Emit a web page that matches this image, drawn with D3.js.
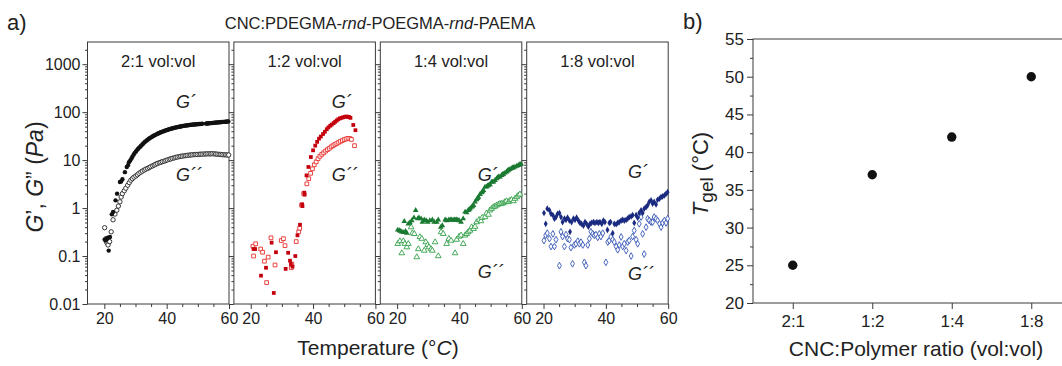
<!DOCTYPE html>
<html>
<head>
<meta charset="utf-8">
<script src="https://cdn.jsdelivr.net/npm/d3@7"></script>
<style>
  body { margin: 0; background: #fff; }
  svg { display: block; font-family: "Liberation Sans", Arial, sans-serif; }
</style>
</head>
<body>
<svg id="chart" width="1062" height="366"></svg>
<script>
"use strict";

// ---------- data ----------
const panelTitles = ["2:1 vol:vol", "1:2 vol:vol", "1:4 vol:vol", "1:8 vol:vol"];
const tempTicksMajor = [20, 40, 60];
const tempTicksMinor = [25, 30, 35, 45, 50, 55];
const modulusTicks = [0.01, 0.1, 1, 10, 100, 1000];

// 2:1 vol:vol  [T (°C), modulus (Pa)]
const gp21 = [[20.1,0.22],[20.4,0.21],[20.8,0.23],[21.1,0.24],[21.4,0.13],[21.8,0.25],[22.4,0.74],[22.8,0.83],[23.6,1.45],[24.1,2.0],[25.0,3.5],[25.4,3.6],[25.8,4.0],[26.6,5.6],[27.2,7.2],[27.6,7.8],[27.9,9.0],[28.3,9.8],[28.7,10.8],[29.0,11.8],[29.4,13],[29.7,14],[30.1,15],[30.4,16],[30.8,17],[31.1,18],[31.5,19],[31.8,20],[32.2,21.2],[32.5,22.3],[32.9,23.5],[33.2,24.6],[33.6,25.7],[33.9,26.7],[34.3,27.8],[34.6,28.8],[35.0,29.8],[35.3,30.8],[35.7,31.8],[36.0,32.7],[36.4,33.6],[36.7,34.5],[37.1,35.4],[37.4,36.3],[37.8,37.2],[38.1,38.0],[38.5,38.9],[38.8,39.7],[39.2,40.5],[39.5,41.3],[39.9,42.0],[40.2,42.8],[40.6,43.5],[40.9,44.2],[41.3,44.9],[41.6,45.6],[42.0,46.2],[42.3,46.9],[42.7,47.5],[43.0,48.1],[43.4,48.7],[43.7,49.3],[44.1,49.8],[44.4,50.3],[44.8,50.8],[45.1,51.3],[45.5,51.8],[45.8,52.2],[46.2,52.6],[46.5,53.0],[46.9,53.4],[47.2,53.8],[47.6,54.1],[47.9,54.5],[48.3,54.8],[48.6,55.1],[49.0,55.4],[49.3,55.7],[49.7,56.0],[50.0,56.2],[50.4,56.5],[50.7,56.7],[51.1,57.0],[51.4,57.2],[52.6,57.8],[52.9,58.0],[53.2,58.3],[53.5,58.6],[53.9,58.9],[54.2,59.2],[54.6,59.5],[54.9,59.8],[55.3,60.1],[55.6,60.4],[56.0,60.7],[56.3,61.0],[56.7,61.3],[57.0,61.6],[57.4,61.9],[57.7,62.2],[58.1,62.5],[58.4,62.8],[58.8,63.1],[59.1,63.4],[59.5,63.7],[59.8,64.0]];
const gpp21 = [[20.1,0.39],[20.5,0.23],[20.8,0.19],[21.2,0.17],[21.7,0.2],[22.2,0.32],[22.8,0.57],[23.4,0.75],[24.0,0.9],[24.5,1.1],[25.0,1.35],[25.4,1.7],[25.8,2.0],[26.4,2.3],[26.9,2.6],[27.5,3.0],[28.0,3.4],[28.5,3.8],[29.0,4.1],[29.5,4.4],[30.1,4.65],[30.6,4.95],[31.1,5.3],[31.7,5.6],[32.2,5.9],[32.8,6.2],[33.3,6.5],[33.9,6.7],[34.4,7.0],[34.9,7.3],[35.5,7.6],[36.0,7.9],[36.5,8.2],[37.0,8.5],[37.6,8.8],[38.1,9.0],[38.6,9.3],[39.2,9.5],[39.7,9.8],[40.2,10.1],[40.8,10.4],[41.3,10.6],[41.8,10.9],[42.4,11.1],[42.9,11.4],[43.4,11.6],[44.0,11.8],[44.5,12.0],[45.0,12.1],[45.6,12.3],[46.1,12.4],[46.6,12.6],[47.2,12.7],[47.7,12.8],[48.2,12.9],[48.8,13.0],[49.3,13.1],[49.8,13.1],[50.4,13.2],[50.9,13.3],[51.4,13.3],[52.0,13.4],[52.5,13.4],[53.0,13.5],[53.6,13.5],[54.1,13.5],[54.6,13.6],[55.2,13.5],[55.7,13.4],[56.2,13.3],[56.8,13.2],[57.3,13.1],[57.8,13.0],[58.4,12.9],[58.9,12.9],[59.4,12.8],[59.9,12.8]];

// 1:2 vol:vol
const gp12 = [[20.9,0.14],[21.4,0.14],[23.3,0.039],[24.9,0.057],[26.7,0.19],[27.4,0.017],[28.1,0.12],[31.2,0.054],[32.0,0.117],[32.6,0.08],[32.9,0.068],[33.4,0.06],[34.3,0.1],[35.0,0.27],[35.8,0.45],[36.5,1.2],[36.6,1.1],[37.2,2.1],[37.3,1.9],[37.9,4.8],[38.5,7.2],[39.3,11.6],[40.0,16],[40.7,20],[41.3,24],[41.9,28],[42.5,31],[43.2,35],[43.8,39],[44.4,44],[44.9,48],[45.5,52],[46.0,55],[46.6,59],[47.1,63],[47.6,67],[48.1,71],[48.6,74],[49.1,76],[49.6,78],[50.2,80],[50.7,81],[51.2,80],[51.6,79],[52.0,76],[52.9,54],[53.6,42]];
const gpp12 = [[20.7,0.16],[20.9,0.10],[21.6,0.18],[23.2,0.14],[23.8,0.12],[24.4,0.078],[25.1,0.028],[25.6,0.095],[26.5,0.24],[27.8,0.065],[29.8,0.21],[30.5,0.23],[31.0,0.165],[33.0,0.057],[33.2,0.068],[34.6,0.2],[35.4,0.32],[35.7,0.38],[36.3,1.15],[37.0,2.0],[38.0,3.2],[38.6,4.1],[39.2,5.3],[39.8,6.6],[40.4,8.0],[41.0,9.2],[41.6,10.7],[42.2,12],[42.8,13.2],[43.4,14.2],[44.0,15.4],[44.6,16.5],[45.2,17.6],[45.8,18.9],[46.4,20],[47.0,21.2],[47.6,22.2],[48.2,23.4],[48.8,24.6],[49.4,25.6],[50.0,26.8],[50.6,27.6],[51.2,28.4],[51.8,28.2],[52.3,27],[53.3,20]];

// 1:4 vol:vol
const gp14 = [[20.2,0.35],[20.7,0.34],[21.1,0.33],[21.5,0.32],[22.0,0.31],[22.3,0.53],[22.7,0.33],[23.1,0.30],[23.6,0.47],[24.1,0.5],[24.7,0.55],[25.4,0.63],[25.95,0.90],[26.6,0.6],[27.0,0.63],[27.7,0.6],[28.1,0.51],[28.7,0.57],[29.3,0.55],[29.8,0.51],[30.5,0.55],[31.3,0.57],[31.9,0.51],[32.7,0.51],[33.2,0.57],[34.0,0.40],[34.5,0.43],[35.4,0.57],[35.9,0.55],[36.6,0.57],[37.1,0.57],[37.5,0.57],[38.0,0.56],[38.4,0.57],[38.8,0.56],[39.1,0.57],[39.5,0.56],[39.9,0.55],[40.5,0.51],[41.2,0.6],[41.8,0.83],[42.3,0.8],[42.8,0.9],[43.1,0.93],[43.4,0.97],[43.9,1.05],[44.2,1.1],[44.5,1.14],[45.0,1.34],[45.5,1.5],[45.8,1.6],[46.1,1.7],[46.6,1.94],[47.1,2.1],[47.4,2.2],[47.7,2.35],[48.2,2.76],[48.7,2.76],[49.0,2.9],[49.3,2.99],[49.8,3.1],[50.3,3.5],[50.6,3.5],[50.9,3.5],[51.4,3.8],[51.9,4.1],[52.2,4.3],[52.5,4.5],[53.0,4.5],[53.5,4.8],[53.8,5.0],[54.1,5.1],[54.6,5.4],[55.1,5.7],[55.4,6.0],[55.7,6.2],[56.2,6.4],[56.7,6.7],[57.0,6.9],[57.3,7.0],[57.8,7.2],[58.4,7.5],[58.9,7.8],[59.4,8.2],[59.8,8.3]];
const gpp14 = [[20.2,0.18],[20.9,0.205],[21.5,0.115],[22.0,0.205],[22.5,0.18],[23.1,0.153],[23.6,0.18],[24.5,0.40],[24.9,0.30],[25.5,0.29],[26.3,0.095],[26.8,0.14],[27.3,0.25],[27.9,0.23],[28.7,0.13],[29.2,0.195],[29.8,0.17],[30.2,0.153],[30.9,0.14],[31.3,0.13],[32.2,0.195],[33.2,0.1],[34.1,0.316],[34.8,0.29],[35.9,0.18],[36.6,0.23],[37.3,0.21],[38.6,0.115],[39.1,0.22],[39.9,0.255],[40.5,0.27],[41.2,0.18],[41.8,0.27],[42.3,0.29],[42.8,0.316],[43.4,0.34],[43.9,0.40],[44.5,0.37],[45.0,0.41],[45.5,0.51],[46.3,0.57],[46.9,0.535],[47.3,0.63],[48.2,0.65],[48.7,0.78],[49.3,0.73],[49.8,0.90],[50.3,0.97],[50.9,1.05],[51.4,1.08],[51.9,1.14],[52.5,1.19],[53.0,1.23],[53.5,1.23],[54.1,1.27],[54.6,1.34],[55.1,1.40],[55.7,1.34],[56.2,1.44],[56.7,1.49],[57.3,1.40],[57.8,1.57],[58.4,1.70],[58.9,1.84],[59.4,1.94]];

// 1:8 vol:vol
const gp18 = [[20.15,0.79],[20.7,0.47],[21.2,0.97],[21.9,0.90],[22.4,0.76],[23.0,0.71],[23.5,0.60],[24.0,0.65],[24.5,0.76],[25.1,0.79],[25.6,0.65],[26.1,0.51],[26.7,0.60],[27.2,0.57],[27.7,0.63],[28.3,0.55],[28.5,0.32],[29.0,0.51],[29.6,0.60],[30.1,0.57],[30.6,0.63],[31.2,0.55],[31.7,0.49],[32.2,0.47],[32.8,0.43],[33.3,0.51],[33.8,0.47],[34.4,0.41],[34.9,0.47],[35.4,0.49],[36.0,0.51],[36.5,0.49],[37.1,0.51],[37.6,0.49],[38.1,0.51],[38.7,0.47],[39.2,0.55],[39.7,0.51],[40.5,0.35],[41.1,0.49],[41.5,0.51],[42.2,0.30],[42.7,0.47],[43.3,0.46],[43.8,0.49],[44.3,0.51],[44.9,0.55],[45.4,0.57],[45.9,0.55],[46.5,0.57],[47.0,0.60],[47.5,0.65],[48.1,0.67],[48.6,0.71],[49.1,0.49],[49.7,0.71],[50.2,0.63],[50.7,0.79],[51.3,0.90],[51.8,0.79],[52.3,0.97],[52.9,1.05],[53.4,1.14],[53.9,1.34],[54.5,1.44],[55.0,1.23],[55.5,1.34],[56.1,1.19],[56.6,1.49],[57.2,1.57],[57.7,1.70],[58.2,1.75],[58.8,1.84],[59.3,1.98],[59.8,2.15]];
const gpp18 = [[20.15,0.21],[20.7,0.27],[21.2,0.30],[21.9,0.23],[22.4,0.158],[23.0,0.29],[23.5,0.158],[24.0,0.22],[25.1,0.063],[25.6,0.32],[26.1,0.255],[26.7,0.158],[27.2,0.28],[27.7,0.23],[28.3,0.22],[28.8,0.15],[29.3,0.069],[29.9,0.17],[30.4,0.18],[31.0,0.205],[31.5,0.18],[32.0,0.195],[32.6,0.17],[33.1,0.074],[33.6,0.063],[34.2,0.17],[34.7,0.23],[35.2,0.32],[35.8,0.29],[36.3,0.27],[36.8,0.28],[37.4,0.245],[37.9,0.29],[38.4,0.255],[39.0,0.30],[40.0,0.074],[40.6,0.195],[41.1,0.21],[41.6,0.25],[42.2,0.22],[42.7,0.195],[43.3,0.158],[43.8,0.135],[44.3,0.17],[44.9,0.25],[45.4,0.158],[45.9,0.18],[46.5,0.13],[47.0,0.195],[47.5,0.21],[48.1,0.1],[48.6,0.255],[49.1,0.34],[49.7,0.22],[50.2,0.18],[50.7,0.47],[51.3,0.65],[51.8,0.29],[52.3,0.11],[52.9,0.40],[53.4,0.60],[53.9,0.55],[54.5,0.51],[55.0,0.51],[55.5,0.65],[56.1,0.60],[56.6,0.55],[57.2,0.47],[57.7,0.40],[58.2,0.49],[58.8,0.55],[59.3,0.49],[59.8,0.60]];

// where the G´ / G´´ annotations sit: [T, G´ label value, G´´ label value]
const labelAnchors = [[43.0, 122, 3.6], [46.0, 122, 3.6], [45.9, 3.7, 0.035], [47.1, 4.25, 0.032]];

// panel b
const ratios = ["2:1", "1:2", "1:4", "1:8"];
const tgel = [25, 37, 42, 50];
const tgelTicks = [20, 25, 30, 35, 40, 45, 50, 55];
const tgelMinorTicks = [22.5, 27.5, 32.5, 37.5, 42.5, 47.5, 52.5];

// ---------- styling ----------
const panels = [
    { gp: gp21, gpp: gpp21, symbol: d3.symbolCircle, size: 15, fill: "#111", open: "#222" },
    { gp: gp12, gpp: gpp12, symbol: d3.symbolSquare, size: 14, fill: "#c4000c", open: "#e8312e" },
    { gp: gp14, gpp: gpp14, symbol: d3.symbolTriangle, size: 14, fill: "#1b7a31", open: "#33a049" },
    { gp: gp18, gpp: gpp18, symbol: d3.symbolDiamond, size: 13, fill: "#1a2a80", open: "#3456b6" },
];

const svg = d3.select("#chart");
const axisColor = "#3a3a3a";
const textColor = "#222";

// ---------- panel a ----------
const A = { left: 87.5, step: 146.4, width: 141.5, top: 42, bottom: 304 };
const yA = d3.scaleLog().domain([0.01, 2900]).range([A.bottom, A.top]);

const logMinor = [];
for (let e = -2; e <= 3; e++) {
    for (let m = 2; m <= 9; m++) {
        const v = m * Math.pow(10, e);
        if (v < 2900) logMinor.push(v);
    }
}

function styleAxis(g) {
    g.select(".domain").remove();
    g.selectAll("line").attr("stroke", axisColor).attr("stroke-width", 1);
    g.selectAll("text").attr("fill", textColor).attr("font-family", "Liberation Sans, Arial, sans-serif");
}

panels.forEach((p, i) => {
    const x0 = A.left + i * A.step;
    const x = d3.scaleLinear().domain([14.6, 60]).range([x0, x0 + A.width]);
    const g = svg.append("g").attr("class", "subplot");

    // axes
    g.append("g").attr("transform", `translate(0,${A.bottom})`)
        .call(d3.axisBottom(x).tickValues(tempTicksMajor).tickSize(5).tickPadding(4).tickFormat(d3.format("d")))
        .call(styleAxis)
        .selectAll("text").attr("font-size", 16);
    g.append("g").attr("transform", `translate(0,${A.bottom})`)
        .call(d3.axisBottom(x).tickValues(tempTicksMinor).tickSize(3).tickFormat(""))
        .call(styleAxis);
    g.append("g").attr("transform", `translate(${x0},0)`)
        .call(d3.axisLeft(yA).tickValues(modulusTicks).tickSize(5).tickPadding(2)
            .tickFormat(i === 0 ? d => String(d) : ""))
        .call(styleAxis)
        .selectAll("text").attr("font-size", 16);
    g.append("g").attr("transform", `translate(${x0},0)`)
        .call(d3.axisLeft(yA).tickValues(logMinor).tickSize(2.5).tickFormat(""))
        .call(styleAxis);

    g.append("rect")
        .attr("x", x0).attr("y", A.top)
        .attr("width", A.width).attr("height", A.bottom - A.top)
        .attr("fill", "none").attr("stroke", axisColor).attr("stroke-width", 1);

    // markers
    const sym = d3.symbol().type(p.symbol).size(p.size);
    g.append("g").selectAll("path")
        .data(p.gpp).join("path")
        .attr("transform", d => `translate(${x(d[0])},${yA(d[1])})`)
        .attr("d", sym)
        .attr("fill", "#fff").attr("stroke", p.open).attr("stroke-width", 0.9);
    g.append("g").selectAll("path")
        .data(p.gp).join("path")
        .attr("transform", d => `translate(${x(d[0])},${yA(d[1])})`)
        .attr("d", sym)
        .attr("fill", p.fill);

    // labels
    g.append("text")
        .attr("x", (x0 + x0 + A.width) / 2).attr("y", 66.5)
        .attr("text-anchor", "middle").attr("font-size", 16.5).attr("fill", textColor)
        .text(panelTitles[i]);
    const [lt, lv1, lv2] = labelAnchors[i];
    g.append("text").attr("x", x(lt)).attr("y", yA(lv1))
        .attr("font-size", 18).attr("font-style", "italic").attr("fill", textColor)
        .text("G\u00B4");
    g.append("text").attr("x", x(lt)).attr("y", yA(lv2))
        .attr("font-size", 18).attr("font-style", "italic").attr("fill", textColor)
        .text("G\u00B4\u00B4");
});

// panel a titles
const title = svg.append("text").attr("x", 380).attr("y", 28.5)
    .attr("text-anchor", "middle").attr("font-size", 16.5).attr("fill", textColor);
title.append("tspan").text("CNC:PDEGMA-");
title.append("tspan").attr("font-style", "italic").text("rnd");
title.append("tspan").text("-POEGMA-");
title.append("tspan").attr("font-style", "italic").text("rnd");
title.append("tspan").text("-PAEMA");

svg.append("text").attr("x", 7).attr("y", 30).attr("font-size", 22).attr("fill", textColor).text("a)");

const yTitleA = svg.append("text")
    .attr("transform", "translate(43,177) rotate(-90)")
    .attr("text-anchor", "middle").attr("font-size", 23).attr("fill", textColor);
yTitleA.append("tspan").attr("font-style", "italic").text("G");
yTitleA.append("tspan").text("\u2019, ");
yTitleA.append("tspan").attr("font-style", "italic").text("G");
yTitleA.append("tspan").text("\u201D (");
yTitleA.append("tspan").attr("font-style", "italic").text("Pa");
yTitleA.append("tspan").text(")");

const xTitleA = svg.append("text").attr("x", 378).attr("y", 355)
    .attr("text-anchor", "middle").attr("font-size", 21).attr("fill", textColor);
xTitleA.append("tspan").text("Temperature (\u00B0");
xTitleA.append("tspan").attr("font-style", "italic").text("C");
xTitleA.append("tspan").text(")");

// ---------- panel b ----------
const B = { left: 753, right: 1071, top: 39, bottom: 303 };
const xB = d3.scaleLinear().domain([-0.5, ratios.length - 0.5]).range([B.left, B.right]);
const yB = d3.scaleLinear().domain([20, 55]).range([B.bottom, B.top]);
const gb = svg.append("g");

gb.append("g").attr("transform", `translate(${B.left},0)`)
    .call(d3.axisLeft(yB).tickValues(tgelTicks).tickSize(6).tickPadding(3))
    .call(styleAxis)
    .selectAll("text").attr("font-size", 17);
gb.append("g").attr("transform", `translate(${B.left},0)`)
    .call(d3.axisLeft(yB).tickValues(tgelMinorTicks).tickSize(3).tickFormat(""))
    .call(styleAxis);
gb.append("g").attr("transform", `translate(0,${B.bottom})`)
    .call(d3.axisBottom(xB).tickValues(d3.range(ratios.length)).tickSize(6).tickPadding(6)
        .tickFormat(i => ratios[i]))
    .call(styleAxis)
    .selectAll("text").attr("font-size", 17);
gb.append("rect")
    .attr("x", B.left).attr("y", B.top)
    .attr("width", B.right - B.left).attr("height", B.bottom - B.top)
    .attr("fill", "none").attr("stroke", axisColor).attr("stroke-width", 1);

gb.append("g").selectAll("circle")
    .data(tgel).join("circle")
    .attr("cx", (d, i) => xB(i)).attr("cy", d => yB(d))
    .attr("r", 4.7).attr("fill", "#111");

svg.append("text").attr("x", 683).attr("y", 29).attr("font-size", 22).attr("fill", textColor).text("b)");

const yTitleB = svg.append("text")
    .attr("transform", "translate(708,174) rotate(-90)")
    .attr("text-anchor", "middle").attr("font-size", 22).attr("fill", textColor);
yTitleB.append("tspan").attr("font-style", "italic").text("T");
yTitleB.append("tspan").attr("dy", 5).attr("font-size", 19).text("gel");
yTitleB.append("tspan").attr("dy", -5).text(" (\u00B0C)");

svg.append("text").attr("x", 916).attr("y", 356)
    .attr("text-anchor", "middle").attr("font-size", 21).attr("fill", textColor)
    .text("CNC:Polymer ratio (vol:vol)");
</script>
</body>
</html>
